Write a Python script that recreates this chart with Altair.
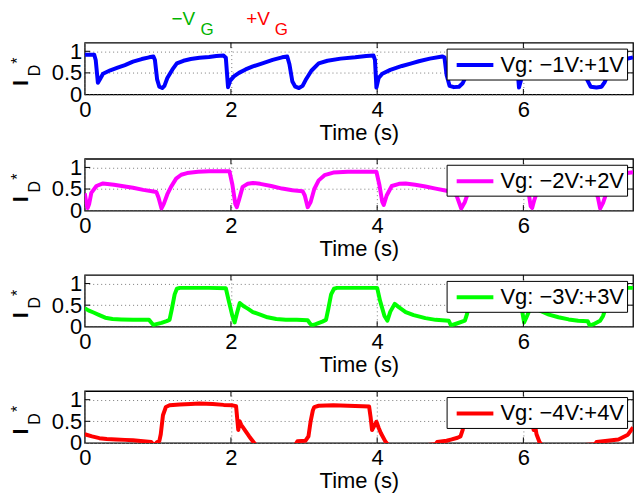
import altair as alt
import pandas as pd

# Normalised drain current I*_D versus time for four gate-voltage sweeps.
# Each list holds (time in s, I*_D) samples.
sweep_1v = [
    (0.00, 0.92), (0.13, 0.92), (0.15, 0.80), (0.18, 0.27), (0.21, 0.36), (0.25, 0.48),
    (0.35, 0.56), (0.45, 0.62), (0.55, 0.68), (0.66, 0.76), (0.78, 0.82), (0.88, 0.86),
    (0.94, 0.88), (0.96, 0.80), (0.99, 0.35), (1.02, 0.18), (1.06, 0.15), (1.09, 0.20),
    (1.13, 0.38), (1.20, 0.58), (1.26, 0.72), (1.35, 0.78), (1.45, 0.82), (1.57, 0.85),
    (1.70, 0.87), (1.80, 0.89), (1.90, 0.90), (1.93, 0.85), (1.96, 0.17), (1.99, 0.32),
    (2.04, 0.42), (2.11, 0.50), (2.20, 0.58), (2.30, 0.65), (2.43, 0.72), (2.57, 0.80),
    (2.70, 0.86), (2.77, 0.88), (2.80, 0.70), (2.84, 0.30), (2.88, 0.18), (2.93, 0.15),
    (2.98, 0.20), (3.03, 0.36), (3.10, 0.55), (3.20, 0.72), (3.32, 0.78), (3.50, 0.83),
    (3.70, 0.86), (3.85, 0.89), (3.95, 0.90), (3.97, 0.80), (3.99, 0.16), (4.02, 0.38),
    (4.07, 0.48), (4.18, 0.57), (4.34, 0.66), (4.47, 0.72), (4.57, 0.77), (4.72, 0.83),
    (4.89, 0.88), (4.92, 0.86), (4.95, 0.45), (4.99, 0.20), (5.05, 0.17), (5.12, 0.18),
    (5.17, 0.26), (5.25, 0.55), (5.35, 0.72), (5.60, 0.82), (5.80, 0.87), (5.90, 0.89),
    (5.92, 0.60), (5.94, 0.16), (5.97, 0.35), (6.05, 0.47), (6.20, 0.58), (6.40, 0.70),
    (6.60, 0.80), (6.80, 0.87), (6.84, 0.85), (6.87, 0.35), (6.92, 0.18), (7.00, 0.16),
    (7.07, 0.18), (7.11, 0.28), (7.18, 0.55), (7.28, 0.72), (7.40, 0.82), (7.50, 0.86),
]

sweep_2v = [
    (0.00, 0.40), (0.02, 0.20), (0.04, 0.06), (0.06, 0.15), (0.09, 0.41), (0.16, 0.57),
    (0.25, 0.63), (0.40, 0.60), (0.55, 0.56), (0.66, 0.53), (0.80, 0.48), (0.92, 0.45),
    (0.98, 0.43), (1.01, 0.30), (1.05, 0.05), (1.08, 0.15), (1.13, 0.38), (1.18, 0.55),
    (1.25, 0.74), (1.32, 0.83), (1.40, 0.87), (1.55, 0.90), (1.70, 0.91), (1.85, 0.91),
    (1.98, 0.91), (2.02, 0.60), (2.06, 0.15), (2.08, 0.08), (2.11, 0.25), (2.16, 0.55),
    (2.23, 0.62), (2.30, 0.64), (2.40, 0.62), (2.55, 0.57), (2.70, 0.51), (2.84, 0.47),
    (2.98, 0.45), (3.01, 0.35), (3.05, 0.08), (3.09, 0.20), (3.14, 0.50), (3.20, 0.70),
    (3.28, 0.82), (3.40, 0.88), (3.60, 0.90), (3.80, 0.90), (3.99, 0.90), (4.03, 0.60),
    (4.07, 0.20), (4.09, 0.13), (4.13, 0.35), (4.20, 0.57), (4.30, 0.62), (4.39, 0.63),
    (4.52, 0.60), (4.66, 0.56), (4.80, 0.51), (4.95, 0.46), (5.05, 0.43), (5.09, 0.33),
    (5.15, 0.05), (5.20, 0.20), (5.26, 0.50), (5.33, 0.70), (5.42, 0.82), (5.55, 0.88),
    (5.75, 0.90), (6.02, 0.90), (6.06, 0.55), (6.10, 0.10), (6.12, 0.06), (6.15, 0.25),
    (6.21, 0.55), (6.30, 0.62), (6.45, 0.60), (6.65, 0.54), (6.85, 0.48), (6.99, 0.44),
    (7.02, 0.30), (7.05, 0.05), (7.09, 0.18), (7.15, 0.48), (7.22, 0.68), (7.32, 0.82),
    (7.42, 0.87), (7.50, 0.89),
]

sweep_3v = [
    (0.00, 0.43), (0.05, 0.38), (0.12, 0.33), (0.20, 0.27), (0.28, 0.21), (0.38, 0.18),
    (0.50, 0.17), (0.66, 0.16), (0.80, 0.16), (0.88, 0.16), (0.91, 0.10), (0.94, 0.04),
    (0.98, 0.06), (1.05, 0.09), (1.12, 0.13), (1.16, 0.16), (1.19, 0.40), (1.23, 0.75),
    (1.26, 0.88), (1.30, 0.90), (1.50, 0.90), (1.70, 0.90), (1.93, 0.89), (1.97, 0.60),
    (2.02, 0.25), (2.05, 0.10), (2.08, 0.30), (2.12, 0.55), (2.17, 0.48), (2.23, 0.42),
    (2.30, 0.34), (2.40, 0.28), (2.50, 0.22), (2.62, 0.18), (2.75, 0.16), (2.90, 0.16),
    (3.05, 0.15), (3.08, 0.08), (3.11, 0.03), (3.16, 0.06), (3.25, 0.12), (3.30, 0.16),
    (3.33, 0.40), (3.37, 0.75), (3.41, 0.88), (3.45, 0.90), (3.70, 0.90), (4.00, 0.90),
    (4.04, 0.60), (4.10, 0.25), (4.14, 0.14), (4.18, 0.35), (4.24, 0.53), (4.30, 0.45),
    (4.39, 0.34), (4.50, 0.27), (4.66, 0.20), (4.80, 0.16), (4.98, 0.14), (5.01, 0.03),
    (5.08, 0.07), (5.20, 0.14), (5.23, 0.30), (5.26, 0.55), (5.30, 0.80), (5.34, 0.88),
    (5.40, 0.90), (5.70, 0.90), (5.95, 0.89), (5.98, 0.40), (6.01, 0.10), (6.05, 0.25),
    (6.10, 0.45), (6.16, 0.50), (6.22, 0.38), (6.35, 0.28), (6.48, 0.22), (6.62, 0.17),
    (6.75, 0.14), (6.88, 0.13), (6.91, 0.02), (6.96, 0.06), (7.05, 0.14), (7.09, 0.25),
    (7.12, 0.40), (7.16, 0.75), (7.20, 0.88), (7.30, 0.90), (7.50, 0.90),
]

sweep_4v = [
    (0.00, 0.20), (0.10, 0.15), (0.20, 0.11), (0.30, 0.09), (0.43, 0.08), (0.55, 0.07),
    (0.66, 0.06), (0.80, 0.04), (0.91, 0.02), (0.94, -0.04), (0.97, -0.02), (0.99, 0.02),
    (1.02, 0.04), (1.04, 0.20), (1.07, 0.64), (1.11, 0.83), (1.16, 0.87), (1.30, 0.89),
    (1.45, 0.90), (1.57, 0.91), (1.75, 0.90), (1.90, 0.88), (2.02, 0.87), (2.07, 0.85),
    (2.10, 0.30), (2.12, 0.50), (2.14, 0.42), (2.20, 0.27), (2.25, 0.15), (2.30, 0.04),
    (2.34, -0.05), (2.60, -0.08), (2.88, -0.05), (2.91, 0.04), (3.02, 0.05), (3.06, 0.15),
    (3.09, 0.50), (3.12, 0.75), (3.14, 0.83), (3.20, 0.86), (3.40, 0.87), (3.60, 0.86),
    (3.80, 0.85), (3.89, 0.84), (3.91, 0.60), (3.93, 0.30), (3.99, 0.49), (4.02, 0.35),
    (4.05, 0.23), (4.11, 0.04), (4.15, -0.05), (4.50, -0.08), (4.80, -0.03), (4.82, 0.02),
    (4.95, 0.05), (5.02, 0.08), (5.10, 0.12), (5.14, 0.15), (5.17, 0.30), (5.20, 0.65),
    (5.24, 0.82), (5.30, 0.86), (5.60, 0.87), (5.90, 0.86), (6.08, 0.84), (6.11, 0.55),
    (6.14, 0.30), (6.16, 0.40), (6.18, 0.20), (6.22, 0.02), (6.25, -0.05), (6.60, -0.08),
    (6.98, -0.03), (7.00, 0.02), (7.15, 0.05), (7.30, 0.08), (7.43, 0.19), (7.50, 0.36),
]

sweeps = [sweep_1v, sweep_2v, sweep_3v, sweep_4v]
labels = ["Vg: \u22121V:+1V", "Vg: \u22122V:+2V", "Vg: \u22123V:+3V", "Vg: \u22124V:+4V"]
colors = ["#0000ff", "#ff00ff", "#00ff00", "#ff0000"]
x_ticks = [0, 2, 4, 6]
y_ticks = [0, 0.5, 1]
x_domain = [0, 7.5]
y_domain = [0, 1.2]

W, H = 550, 52
TICK = 5.5
FONT = "Liberation Sans"
NEG_GREEN = "#00b400"
POS_RED = "#ff0000"


def label_text(text, size, x, y, color="black", weight="normal",
               angle=0, align="left", baseline="alphabetic"):
    """A single free-standing text item placed in pixel space of a panel."""
    return alt.Chart(pd.DataFrame({"k": [0]})).mark_text(
        text=text, font=FONT, fontSize=size, fontWeight=weight, color=color,
        angle=angle, align=align, baseline=baseline,
    ).encode(x=alt.value(x), y=alt.value(y))


def panel(samples, label, color, with_gate_marks=False):
    data = pd.DataFrame(samples, columns=["t", "i"])
    data["series"] = label
    xs = alt.Scale(domain=x_domain, nice=False, zero=False)
    ys = alt.Scale(domain=y_domain, nice=False, zero=False)
    x_axis = alt.Axis(values=x_ticks, title="Time (s)", grid=True,
                      labelPadding=5, titlePadding=2)
    y_axis = alt.Axis(values=y_ticks, title=None, grid=True, format="~g",
                      labelPadding=3)

    line = alt.Chart(data).mark_line(
        strokeWidth=4, clip=True, strokeJoin="round"
    ).encode(
        x=alt.X("t:Q", scale=xs, axis=x_axis),
        y=alt.Y("i:Q", scale=ys, axis=y_axis),
        color=alt.Color("series:N",
                        scale=alt.Scale(domain=[label], range=[color]),
                        legend=alt.Legend(title=None, orient="top-right", offset=6)),
    )

    # inward tick marks on all four sides of the frame
    xt = pd.DataFrame({"t": x_ticks[1:]})
    yt = pd.DataFrame({"i": y_ticks[1:]})
    rule = dict(color="black", strokeWidth=1)
    ticks = [
        alt.Chart(xt).mark_rule(**rule).encode(
            x=alt.X("t:Q", axis=x_axis), y=alt.value(0), y2=alt.value(TICK)),
        alt.Chart(xt).mark_rule(**rule).encode(
            x=alt.X("t:Q", axis=x_axis), y=alt.value(H), y2=alt.value(H - TICK)),
        alt.Chart(yt).mark_rule(**rule).encode(
            y=alt.Y("i:Q", axis=y_axis), x=alt.value(0), x2=alt.value(TICK)),
        alt.Chart(yt).mark_rule(**rule).encode(
            y=alt.Y("i:Q", axis=y_axis), x=alt.value(W), x2=alt.value(W - TICK)),
    ]

    # y-axis label  I*_D
    ylab = [
        label_text("I", 22, -63.7, 40.5, weight="bold", angle=270,
                   align="center", baseline="middle"),
        label_text("D", 16, -50, 28, angle=270, align="center", baseline="middle"),
        label_text("*", 16, -66.5, 18, angle=270, align="center", baseline="middle"),
    ]

    layers = [line] + ticks + ylab
    if with_gate_marks:
        layers += [
            label_text("\u2212V", 19, 87, -17.3, color=NEG_GREEN),
            label_text("G", 17, 116, -8, color=NEG_GREEN),
            label_text("+V", 19, 162, -17.3, color=POS_RED),
            label_text("G", 17, 190.5, -8, color=POS_RED),
        ]
    return alt.layer(*layers).properties(width=W, height=H)


panels = [panel(s, l, c, with_gate_marks=(k == 0))
          for k, (s, l, c) in enumerate(zip(sweeps, labels, colors))]

# legend key drawn as a horizontal stroke that reaches past its nominal size
legend_stroke = "M-1.6,0H1.6"

chart = (
    alt.vconcat(*panels, spacing=64.5, bounds="flush")
    .resolve_scale(color="independent")
    .resolve_legend(color="independent")
    .properties(padding={"left": 9, "top": 9, "right": 8, "bottom": 5})
    .configure_view(stroke="black", strokeWidth=1.3)
    .configure_axis(
        labelFont=FONT, labelFontSize=22, labelColor="black",
        labelFlush=False, labelOverlap=False, labelBound=False,
        titleFont=FONT, titleFontSize=22, titleFontWeight="normal", titleColor="black",
        ticks=False, tickSize=0, domain=False,
        gridColor="#7a7a7a", gridDash=[1, 3], gridWidth=1, gridOpacity=1,
    )
    .configure_legend(
        labelFont=FONT, labelFontSize=22, labelColor="black", labelLimit=0,
        labelOffset=12, symbolType=legend_stroke, symbolStrokeWidth=4, symbolSize=529,
        symbolOffset=12, padding=3, fillColor="white", strokeColor="black",
        cornerRadius=0,
    )
)

chart.save("out.html", embed_options={"renderer": "svg", "actions": False})
